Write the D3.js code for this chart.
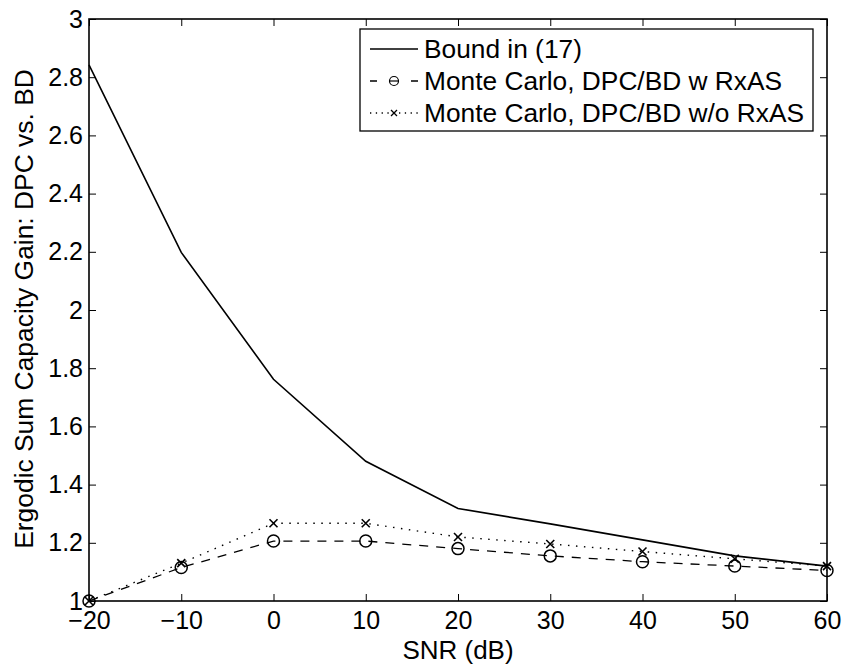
<!DOCTYPE html>
<html>
<head>
<meta charset="utf-8">
<script src="https://cdn.jsdelivr.net/npm/d3@7"></script>
<style>
  body { margin: 0; background: #fff; }
  text { font-family: "Liberation Sans", Arial, sans-serif; }
</style>
</head>
<body>
<div id="chart"></div>
<script>
// data
const snr = [-20, -10, 0, 10, 20, 30, 40, 50, 60];
const bound = [2.842, 2.198, 1.762, 1.48, 1.318, 1.265, 1.21, 1.155, 1.12];
const withRxAS = [1.0, 1.115, 1.206, 1.206, 1.18, 1.155, 1.135, 1.12, 1.105];
const withoutRxAS = [1.0, 1.13, 1.267, 1.267, 1.22, 1.196, 1.17, 1.145, 1.12];
const xTicks = [-20, -10, 0, 10, 20, 30, 40, 50, 60];
const yTicks = [1, 1.2, 1.4, 1.6, 1.8, 2, 2.2, 2.4, 2.6, 2.8, 3];
const legendLabels = ["Bound in (17)", "Monte Carlo, DPC/BD w RxAS", "Monte Carlo, DPC/BD w/o RxAS"];

const W = 847, H = 669;
const margin = {top: 19, right: 20, bottom: 68, left: 89};
const width = W - margin.left - margin.right,
      height = H - margin.top - margin.bottom;

const svg = d3.select("#chart").append("svg")
    .attr("width", W).attr("height", H);
const g = svg.append("g")
    .attr("transform", `translate(${margin.left}, ${margin.top})`);

const x = d3.scaleLinear().domain([-20, 60]).range([0, width]);
const y = d3.scaleLinear().domain([1, 3]).range([height, 0]);

const fmtX = d => d < 0 ? "\u2212" + Math.abs(d) : String(d);

// axes, ticks pointing inwards (matlab style)
const tl = 7;
g.append("g").attr("transform", `translate(0, ${height})`)
    .call(d3.axisBottom(x).tickValues(xTicks).tickSize(-tl).tickPadding(10).tickFormat(fmtX))
    .call(a => a.select(".domain").remove());
g.append("g")
    .call(d3.axisTop(x).tickValues(xTicks).tickSize(-tl).tickFormat(""))
    .call(a => a.select(".domain").remove());
g.append("g")
    .call(d3.axisLeft(y).tickValues(yTicks).tickSize(-tl).tickPadding(6).tickFormat(d3.format("")))
    .call(a => a.select(".domain").remove());
g.append("g").attr("transform", `translate(${width}, 0)`)
    .call(d3.axisRight(y).tickValues(yTicks).tickSize(-tl).tickFormat(""))
    .call(a => a.select(".domain").remove());

g.selectAll(".tick line").attr("stroke", "#000").attr("stroke-width", 1);
g.selectAll(".tick text").attr("font-size", 25).attr("fill", "#000")
    .style("font-family", "'Liberation Sans', Arial, sans-serif");

g.append("rect").attr("width", width).attr("height", height)
    .attr("fill", "none").attr("stroke", "#000").attr("stroke-width", 1.6);

// series
const line = d3.line().x((d, i) => x(snr[i])).y(d => y(d));

g.append("path").datum(bound).attr("d", line)
    .attr("fill", "none").attr("stroke", "#000").attr("stroke-width", 1.6);
g.append("path").datum(withRxAS).attr("d", line)
    .attr("fill", "none").attr("stroke", "#000").attr("stroke-width", 1.3)
    .attr("stroke-dasharray", "9,8");
g.append("path").datum(withoutRxAS).attr("d", line)
    .attr("fill", "none").attr("stroke", "#000").attr("stroke-width", 1.4)
    .attr("stroke-dasharray", "1.5,6.5");

// circle markers
g.selectAll(".circ").data(withRxAS).join("circle")
    .attr("class", "circ")
    .attr("cx", (d, i) => x(snr[i])).attr("cy", d => y(d))
    .attr("r", 6).attr("fill", "none").attr("stroke", "#000").attr("stroke-width", 1.5);

// x markers
const crossPath = s => `M${-s},${-s}L${s},${s}M${-s},${s}L${s},${-s}`;
g.selectAll(".xm").data(withoutRxAS).join("path")
    .attr("class", "xm")
    .attr("transform", (d, i) => `translate(${x(snr[i])}, ${y(d)})`)
    .attr("d", crossPath(4)).attr("fill", "none").attr("stroke", "#000").attr("stroke-width", 1.6);

// legend
const lx = 360 - margin.left, ly = 29 - margin.top;
const leg = g.append("g").attr("transform", `translate(${lx}, ${ly})`);
leg.append("rect").attr("width", 453).attr("height", 102)
    .attr("fill", "#fff").attr("stroke", "#000").attr("stroke-width", 1.3);
const rowY = [20, 52, 84];
const styles = [
  {dash: null, marker: null},
  {dash: "7,34", marker: "circle"},
  {dash: "1.3,4.5", marker: "x"}
];
legendLabels.forEach((lab, i) => {
  const row = leg.append("g").attr("transform", `translate(0, ${rowY[i]})`);
  row.append("line").attr("x1", 10).attr("x2", 58).attr("y1", 0).attr("y2", 0)
      .attr("stroke", "#000").attr("stroke-width", i === 0 ? 1.6 : 1.3)
      .attr("stroke-dasharray", styles[i].dash);
  if (styles[i].marker === "circle") {
    row.append("circle").attr("cx", 34).attr("cy", 0).attr("r", 4.5)
        .attr("fill", "#fff").attr("stroke", "#000").attr("stroke-width", 1.2);
    row.append("line").attr("x1", 29.5).attr("x2", 38.5).attr("y1", 0).attr("y2", 0)
        .attr("stroke", "#000").attr("stroke-width", 1.2);
  } else if (styles[i].marker === "x") {
    row.append("path").attr("transform", "translate(34, 0)")
        .attr("d", crossPath(3))
        .attr("fill", "#fff").attr("stroke", "#000").attr("stroke-width", 1.3);
  }
  row.append("text").attr("x", 64).attr("y", 0).attr("dy", "0.36em")
      .attr("font-size", 26.3).text(lab);
});

// axis titles
svg.append("text")
    .attr("x", margin.left + width / 2).attr("y", 659)
    .attr("text-anchor", "middle").attr("font-size", 26)
    .text("SNR (dB)");
svg.append("text")
    .attr("transform", `translate(33, ${margin.top + height / 2 - 1}) rotate(-90)`)
    .attr("text-anchor", "middle").attr("font-size", 26.4)
    .text("Ergodic Sum Capacity Gain: DPC vs. BD");
</script>
</body>
</html>
